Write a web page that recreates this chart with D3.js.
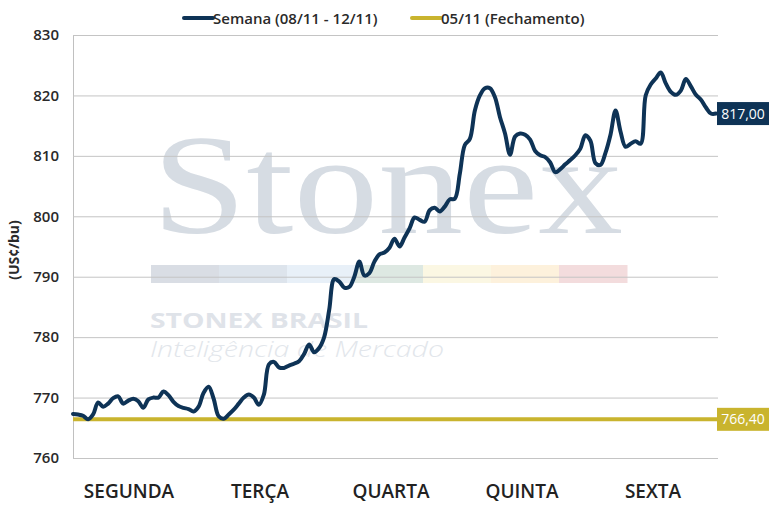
<!DOCTYPE html>
<html>
<head>
<meta charset="utf-8">
<script src="https://cdn.jsdelivr.net/npm/d3@7"></script>
<style>
  html, body { margin: 0; padding: 0; background: #fff; }
  svg { display: block; }
</style>
</head>
<body>
<svg id="chart" width="770" height="513"></svg>
<script>
// ---------- DATA ----------
const days = ["SEGUNDA", "TERÇA", "QUARTA", "QUINTA", "SEXTA"];
const yTicks = [760, 770, 780, 790, 800, 810, 820, 830];
const seriesName = "Semana (08/11 - 12/11)";
const refName = "05/11 (Fechamento)";
const refValue = 766.40;
const lastLabel = "817,00";
const refLabel = "766,40";
// intraday prices across the week (evenly spaced samples)
const prices = [
  767.3, 767.2, 767.0, 766.4, 767.2, 769.2, 768.5, 769.0, 769.9, 770.2,
  769.0, 769.5, 769.8, 769.4, 768.3, 769.7, 770.0, 770.0, 771.0, 770.4,
  769.3, 768.6, 768.3, 768.1, 767.7, 768.5, 770.8, 771.8, 769.8, 766.9,
  766.5, 767.2, 768.0, 769.0, 770.0, 770.5, 770.0, 768.8, 770.5, 775.5,
  775.9, 775.0, 774.9, 775.3, 775.6, 776.0, 777.2, 778.8, 777.5, 778.2,
  780.0, 784.5, 789.6, 789.2, 788.2, 788.3, 790.0, 792.5, 790.2, 790.6,
  792.5, 793.7, 794.0, 794.8, 796.3, 795.0, 796.5, 798.0, 799.8, 799.4,
  799.1, 801.0, 801.4, 800.8, 801.6, 802.8, 802.9, 807.0, 811.8, 812.8,
  817.5, 820.0, 821.2, 821.2, 819.7, 816.4, 813.7, 810.2, 813.2, 813.7,
  813.5, 812.7, 810.8, 810.1, 809.8, 808.9, 807.3, 807.8, 808.6, 809.3,
  810.1, 811.2, 813.4, 812.5, 808.8, 808.5, 810.5, 813.5, 817.5, 814.0,
  811.5, 812.0, 812.4, 812.0, 820.0, 821.8, 822.8, 823.8, 822.0, 820.6,
  820.1, 820.8, 822.7, 821.5, 820.1, 819.3, 818.0, 817.0, 817.0
];
// watermark band colours
const bandColors = ["#d9dde4", "#dde4ec", "#e8f0f8", "#dde8e2", "#fbf7e3", "#fdf1dc", "#f3dcdd"];

// ---------- CHART ----------
const navy = "#0e3356";
const gold = "#c9b42e";
const svg = d3.select("#chart");

const x = d3.scaleLinear().domain([0, prices.length - 1]).range([73, 716]);
const y = d3.scaleLinear().domain([760, 830]).range([458, 35]);
const xDay = d3.scalePoint().domain(days).range([129, 653]);

// watermark
const wm = svg.append("g");
wm.append("text")
  .attr("x", 152).attr("y", 233)
  .attr("textLength", 471).attr("lengthAdjust", "spacingAndGlyphs")
  .style("font-family", "'Liberation Serif', 'DejaVu Serif', serif")
  .style("font-size", "142px")
  .attr("fill", "#d6dce3")
  .text("Stonex");
const bw = (627 - 151) / bandColors.length;
wm.selectAll("rect.band").data(bandColors).join("rect")
  .attr("class", "band")
  .attr("x", (d, i) => 151 + i * bw).attr("y", 265)
  .attr("width", bw + 0.5).attr("height", 18)
  .attr("fill", d => d);
wm.append("text")
  .attr("x", 150).attr("y", 328)
  .attr("textLength", 218).attr("lengthAdjust", "spacingAndGlyphs")
  .style("font-family", "'Open Sans', sans-serif")
  .style("font-weight", 700).style("font-size", "22px")
  .attr("fill", "#dfe3e9")
  .text("STONEX BRASIL");
wm.append("text")
  .attr("x", 150).attr("y", 357)
  .attr("textLength", 294).attr("lengthAdjust", "spacingAndGlyphs")
  .style("font-family", "'Open Sans', sans-serif")
  .style("font-weight", 300).style("font-style", "italic").style("font-size", "22px")
  .attr("fill", "#e2e6eb")
  .text("Inteligência de Mercado");

// gridlines + y axis
const yAxis = d3.axisLeft(y).tickValues(yTicks).tickSize(-645).tickPadding(14).tickFormat(d3.format("d"));
const gy = svg.append("g").attr("transform", "translate(73,0)").call(yAxis);
gy.select(".domain").attr("stroke", "#c0c0c0");
gy.selectAll(".tick line").attr("stroke", "#c4c4c4").attr("stroke-width", 1);
gy.selectAll(".tick text")
  .attr("fill", "#2a2a2a")
  .style("font-family", "'Open Sans', sans-serif")
  .style("font-weight", 600).style("font-size", "15px");

// y title
svg.append("text")
  .attr("transform", "translate(19,250) rotate(-90)")
  .attr("text-anchor", "middle")
  .style("font-family", "'Open Sans', sans-serif")
  .style("font-weight", 700).style("font-size", "14px")
  .attr("fill", "#2a2a2a")
  .text("(US¢/bu)");

// x day labels
svg.append("g").selectAll("text").data(days).join("text")
  .attr("x", d => xDay(d)).attr("y", 498)
  .attr("text-anchor", "middle")
  .style("font-family", "'Open Sans', sans-serif")
  .style("font-weight", 600).style("font-size", "19px")
  .attr("fill", "#222")
  .text(d => d);

// reference line
svg.append("line")
  .attr("x1", x(0)).attr("x2", 718)
  .attr("y1", y(refValue)).attr("y2", y(refValue))
  .attr("stroke", gold).attr("stroke-width", 4);

// price line
const line = d3.line().x((d, i) => x(i)).y(d => y(d)).curve(d3.curveCatmullRom.alpha(0.5));
svg.append("path").datum(prices)
  .attr("d", line)
  .attr("fill", "none").attr("stroke", navy)
  .attr("stroke-width", 4).attr("stroke-linejoin", "round").attr("stroke-linecap", "round");

// end labels
function endLabel(val, txt, color) {
  const cy = y(val);
  svg.append("rect").attr("x", 717).attr("y", cy - 11.5).attr("width", 52).attr("height", 23).attr("fill", color);
  svg.append("text").attr("x", 743).attr("y", cy + 5)
    .attr("text-anchor", "middle")
    .style("font-family", "'Open Sans', sans-serif")
    .style("font-weight", 500).style("font-size", "14px")
    .attr("fill", "#fff").text(txt);
}
endLabel(prices[prices.length - 1], lastLabel, navy);
endLabel(refValue, refLabel, gold);

// legend
const legend = [
  { name: seriesName, color: navy, x: 184 },
  { name: refName, color: gold, x: 412 }
];
const lg = svg.append("g").selectAll("g").data(legend).join("g")
  .attr("transform", d => `translate(${d.x},18)`);
lg.append("line").attr("x1", 0).attr("x2", 29).attr("stroke", d => d.color)
  .attr("stroke-width", 4).attr("stroke-linecap", "round");
lg.append("text").attr("x", 29).attr("y", 5.5)
  .style("font-family", "'Open Sans', sans-serif")
  .style("font-weight", 600).style("font-size", "15px")
  .attr("fill", "#2a2a2a")
  .text(d => d.name);
</script>
</body>
</html>
